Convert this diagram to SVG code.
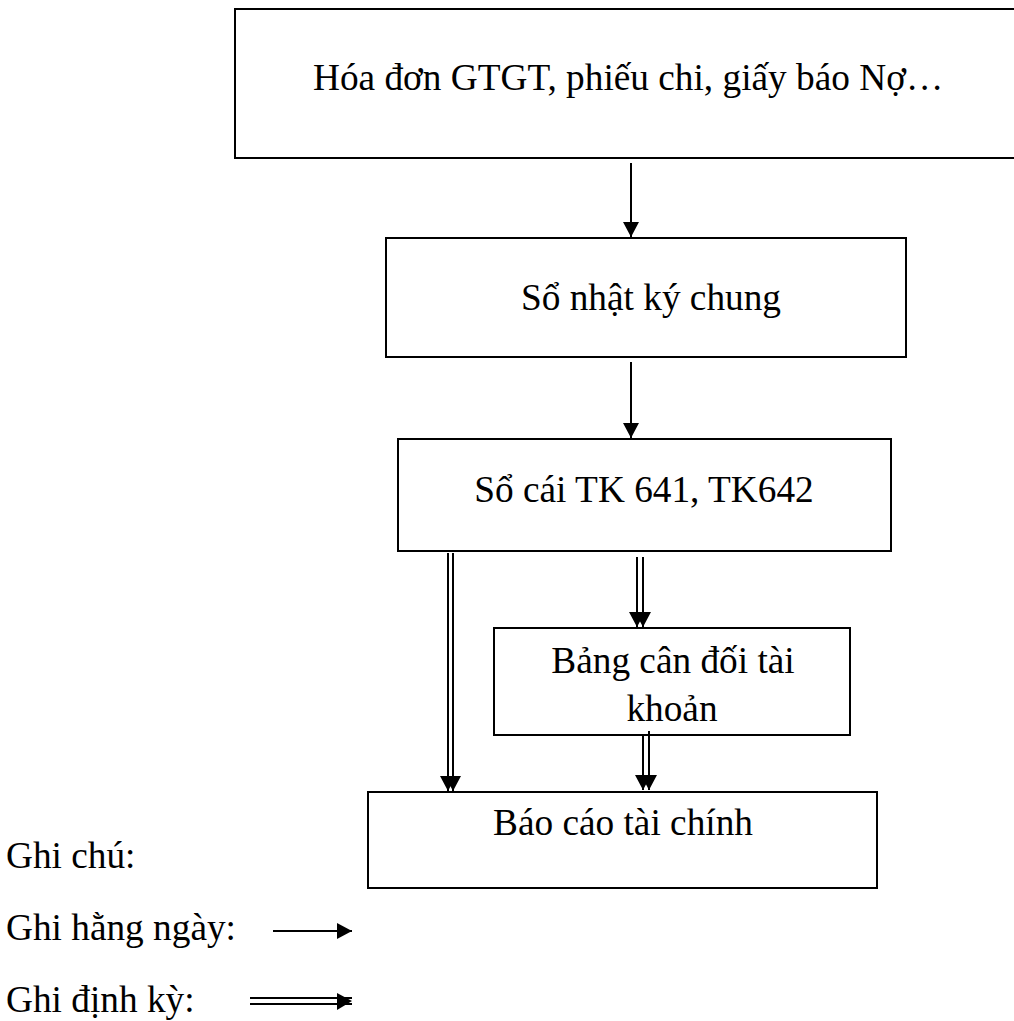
<svg xmlns="http://www.w3.org/2000/svg" width="1014" height="1021" viewBox="0 0 1014 1021">
  <style>
    .box { fill: #fff; stroke: #000; stroke-width: 2; }
    .lbl { font-family: "Liberation Serif", "Times New Roman", serif; font-size: 37.3px; fill: #000; }
    .mid { text-anchor: middle; }
    .ln { stroke: #000; stroke-width: 2; fill: none; }
  </style>
  <defs>
    <marker id="head" markerUnits="userSpaceOnUse" markerWidth="16" markerHeight="16" refX="15" refY="8" orient="auto">
      <path d="M0,0 L15,8 L0,16 Z" fill="#000"/>
    </marker>
  </defs>
  <rect width="1014" height="1021" fill="#fff"/>

  <g id="node-chungtu">
    <rect class="box" x="235" y="9" width="790" height="149"/>
    <text class="lbl" x="313" y="90">Hóa đơn GTGT, phiếu chi, giấy báo Nợ…</text>
  </g>

  <g id="node-nhatky">
    <rect class="box" x="386" y="238" width="520" height="119"/>
    <text class="lbl mid" x="651" y="310">Sổ nhật ký chung</text>
  </g>

  <g id="node-socai">
    <rect class="box" x="398" y="439" width="493" height="112"/>
    <text class="lbl mid" x="644" y="502">Sổ cái TK 641, TK642</text>
  </g>

  <g id="node-cdtk">
    <rect class="box" x="494" y="628" width="356" height="107"/>
    <text class="lbl mid" x="673" y="673">Bảng cân đối tài</text>
    <text class="lbl mid" x="672" y="721">khoản</text>
  </g>

  <g id="node-bctc">
    <rect class="box" x="368" y="792" width="509" height="96"/>
    <text class="lbl mid" x="623" y="835">Báo cáo tài chính</text>
  </g>

  <g id="connectors">
    <!-- daily -->
    <line class="ln" x1="631" y1="163" x2="631" y2="237" marker-end="url(#head)"/>
    <line class="ln" x1="631" y1="362" x2="631" y2="438" marker-end="url(#head)"/>
    <!-- periodic: ledger to statements -->
    <line class="ln" x1="448" y1="553" x2="448" y2="791" marker-end="url(#head)"/>
    <line class="ln" x1="453" y1="553" x2="453" y2="791" marker-end="url(#head)"/>
    <!-- periodic: ledger to trial balance -->
    <line class="ln" x1="637" y1="557" x2="637" y2="627" marker-end="url(#head)"/>
    <line class="ln" x1="643" y1="557" x2="643" y2="627" marker-end="url(#head)"/>
    <!-- periodic: trial balance to statements -->
    <line class="ln" x1="643" y1="736" x2="643" y2="790" marker-end="url(#head)"/>
    <line class="ln" x1="649" y1="731" x2="649" y2="790" marker-end="url(#head)"/>
  </g>

  <g id="legend">
    <text class="lbl" x="6" y="868">Ghi chú:</text>
    <text class="lbl" x="6" y="940">Ghi hằng ngày:</text>
    <text class="lbl" x="6" y="1012">Ghi định kỳ:</text>
    <line class="ln" x1="273" y1="931" x2="352" y2="931" marker-end="url(#head)"/>
    <line class="ln" x1="250" y1="998" x2="352" y2="998"/>
    <line class="ln" x1="250" y1="1004" x2="352" y2="1004"/>
    <path d="M337,993 L352,1001 L337,1010 Z" fill="#000"/>
  </g>
</svg>
